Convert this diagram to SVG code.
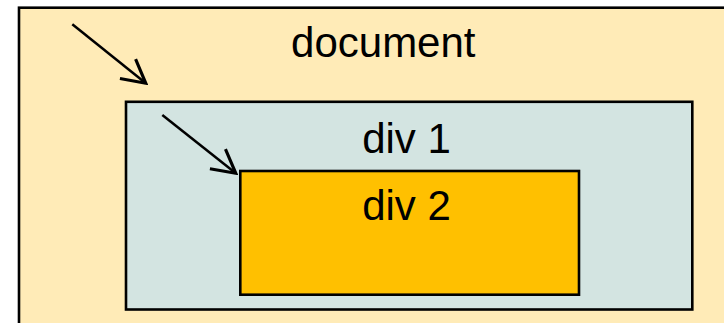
<svg xmlns="http://www.w3.org/2000/svg" width="724" height="323" viewBox="0 0 724 323">
  <style>
    .box { stroke: #000; stroke-width: 2.6; }
    .lbl { font-family: "Liberation Sans", Arial, sans-serif; font-size: 42px; fill: #000; text-anchor: middle; }
    .conn { stroke: #000; stroke-width: 2.5; fill: none; }
  </style>
  <defs>
    <marker id="open" markerUnits="userSpaceOnUse" markerWidth="30" markerHeight="30" viewBox="-22 -12 24 24" refX="0" refY="0" orient="auto">
      <path d="M-18.5,-10 L0,0 L-18.5,10" fill="none" stroke="#000" stroke-width="2.5"/>
    </marker>
  </defs>
  <rect width="724" height="323" fill="#fff"/>
  <g id="document">
    <rect class="box" x="19" y="7.7" width="720" height="330" fill="#FFEBB7"/>
    <text class="lbl" x="383.3" y="56.7">document</text>
  </g>
  <g id="div1">
    <rect class="box" x="126" y="101.8" width="566.3" height="207.7" fill="#D3E4E1"/>
    <text class="lbl" x="406.5" y="153">div 1</text>
  </g>
  <g id="div2">
    <rect class="box" x="240.3" y="171" width="338.7" height="123.7" fill="#FFC000"/>
    <text class="lbl" x="406.5" y="220">div 2</text>
  </g>
  <g id="connectors">
    <line class="conn" x1="72.3" y1="24.3" x2="145.8" y2="83.3" marker-end="url(#open)"/>
    <line class="conn" x1="162.3" y1="115" x2="235.8" y2="173.3" marker-end="url(#open)"/>
  </g>
</svg>
